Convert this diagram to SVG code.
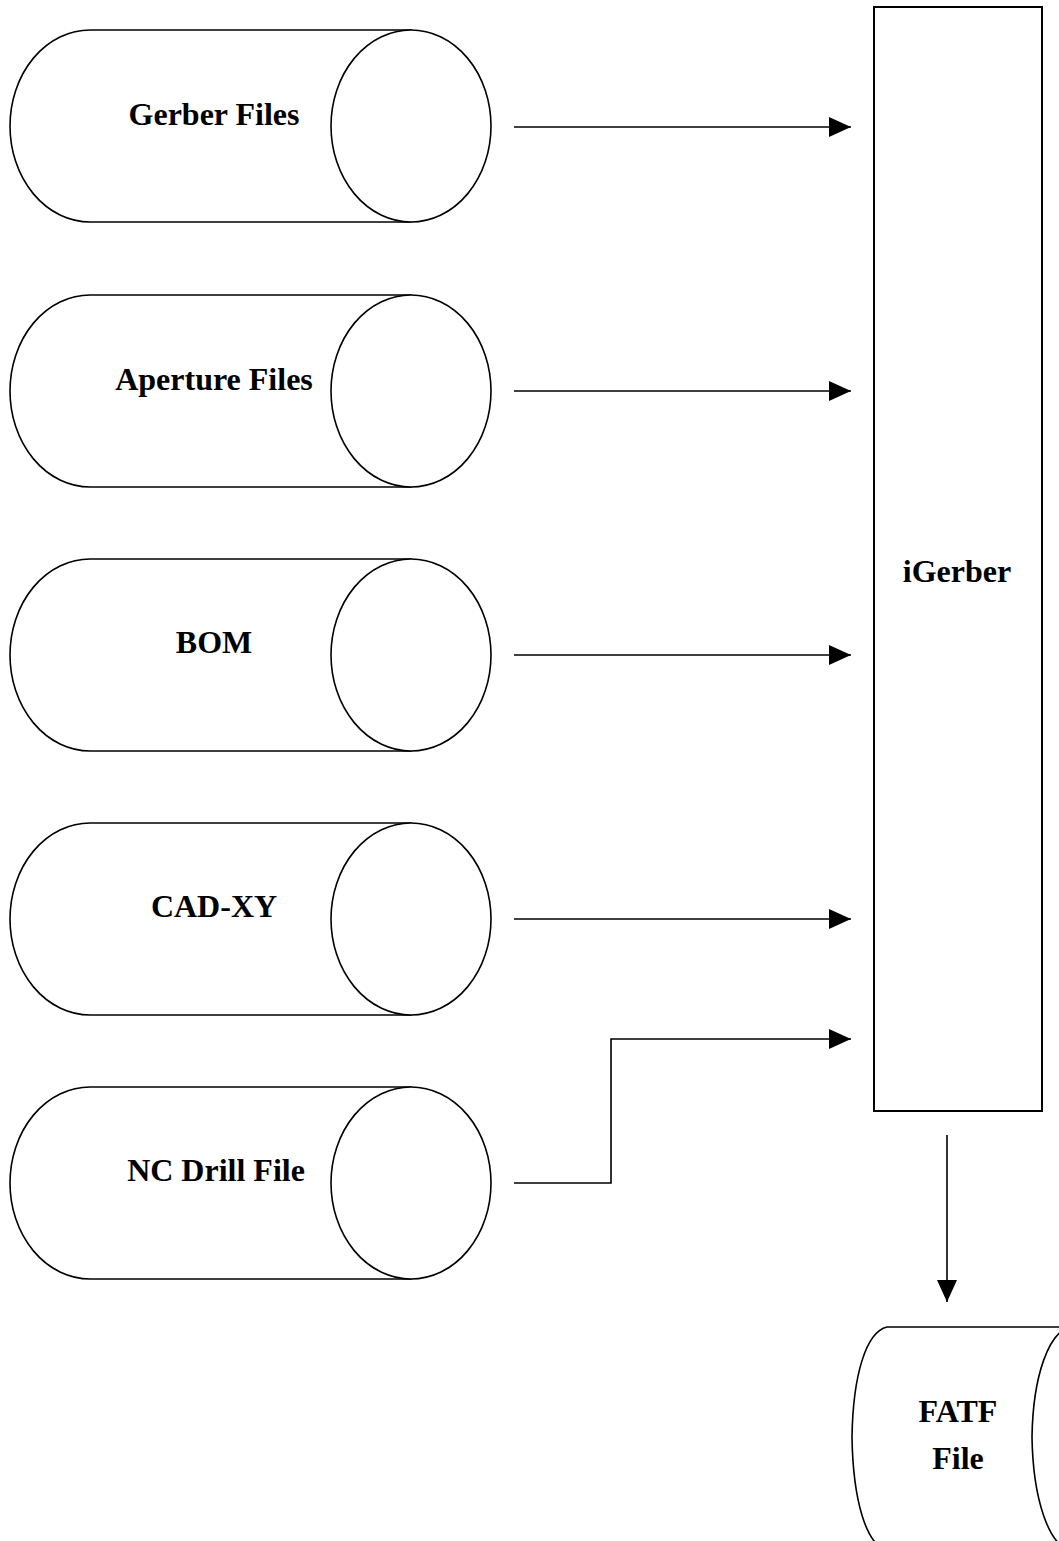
<svg xmlns="http://www.w3.org/2000/svg" width="1059" height="1541" viewBox="0 0 1059 1541">
<defs>
<style>
.shape{fill:#fff;stroke:#000;stroke-width:1.6}
.conn{fill:none;stroke:#000;stroke-width:1.6}
.lbl{font-family:"Liberation Serif","Times New Roman",serif;font-weight:bold;font-size:32px;fill:#000;text-anchor:middle}
</style>
<marker id="ah" viewBox="0 0 22 20" refX="22" refY="10" markerWidth="22" markerHeight="20" markerUnits="userSpaceOnUse" orient="auto">
<path d="M0,0 L22,10 L0,20 Z" fill="#000"/>
</marker>
</defs>
<rect width="1059" height="1541" fill="#fff"/>
<g id="gerber">
<path class="shape" d="M90,30 L411,30 L411,222 L90,222 A80,96 0 0 1 90,30 Z"/>
<ellipse class="shape" cx="411" cy="126" rx="80" ry="96"/>
<text class="lbl" x="214" y="125">Gerber Files</text>
</g>
<g id="aperture">
<path class="shape" d="M90,295 L411,295 L411,487 L90,487 A80,96 0 0 1 90,295 Z"/>
<ellipse class="shape" cx="411" cy="391" rx="80" ry="96"/>
<text class="lbl" x="214" y="390">Aperture Files</text>
</g>
<g id="bom">
<path class="shape" d="M90,559 L411,559 L411,751 L90,751 A80,96 0 0 1 90,559 Z"/>
<ellipse class="shape" cx="411" cy="655" rx="80" ry="96"/>
<text class="lbl" x="214" y="653">BOM</text>
</g>
<g id="cadxy">
<path class="shape" d="M90,823 L411,823 L411,1015 L90,1015 A80,96 0 0 1 90,823 Z"/>
<ellipse class="shape" cx="411" cy="919" rx="80" ry="96"/>
<text class="lbl" x="214" y="917">CAD-XY</text>
</g>
<g id="ncdrill">
<path class="shape" d="M90,1087 L411,1087 L411,1279 L90,1279 A80,96 0 0 1 90,1087 Z"/>
<ellipse class="shape" cx="411" cy="1183" rx="80" ry="96"/>
<text class="lbl" x="216" y="1181">NC Drill File</text>
</g>
<g id="igerber">
<rect class="shape" x="874" y="7" width="168" height="1104" style="stroke-width:2"/>
<text class="lbl" x="957" y="582">iGerber</text>
</g>
<g id="fatf">
<path class="shape" d="M887,1327 L1070,1327 L1070,1550 L887,1550 C866,1545 853,1500 852,1437 C853,1375 866,1332 887,1327 Z"/>
<path class="shape" d="M1070,1327 C1049,1332 1033,1375 1032,1437 C1033,1500 1049,1545 1070,1550"/>
<text class="lbl" x="958" y="1422">FATF</text>
<text class="lbl" x="958" y="1469">File</text>
</g>
<g id="connectors">
<line class="conn" x1="514" y1="127" x2="851" y2="127" marker-end="url(#ah)"/>
<line class="conn" x1="514" y1="391" x2="851" y2="391" marker-end="url(#ah)"/>
<line class="conn" x1="514" y1="655" x2="851" y2="655" marker-end="url(#ah)"/>
<line class="conn" x1="514" y1="919" x2="851" y2="919" marker-end="url(#ah)"/>
<polyline class="conn" points="514,1183 611,1183 611,1039 851,1039" marker-end="url(#ah)"/>
<line class="conn" x1="947" y1="1135" x2="947" y2="1302" marker-end="url(#ah)"/>
</g>
</svg>
